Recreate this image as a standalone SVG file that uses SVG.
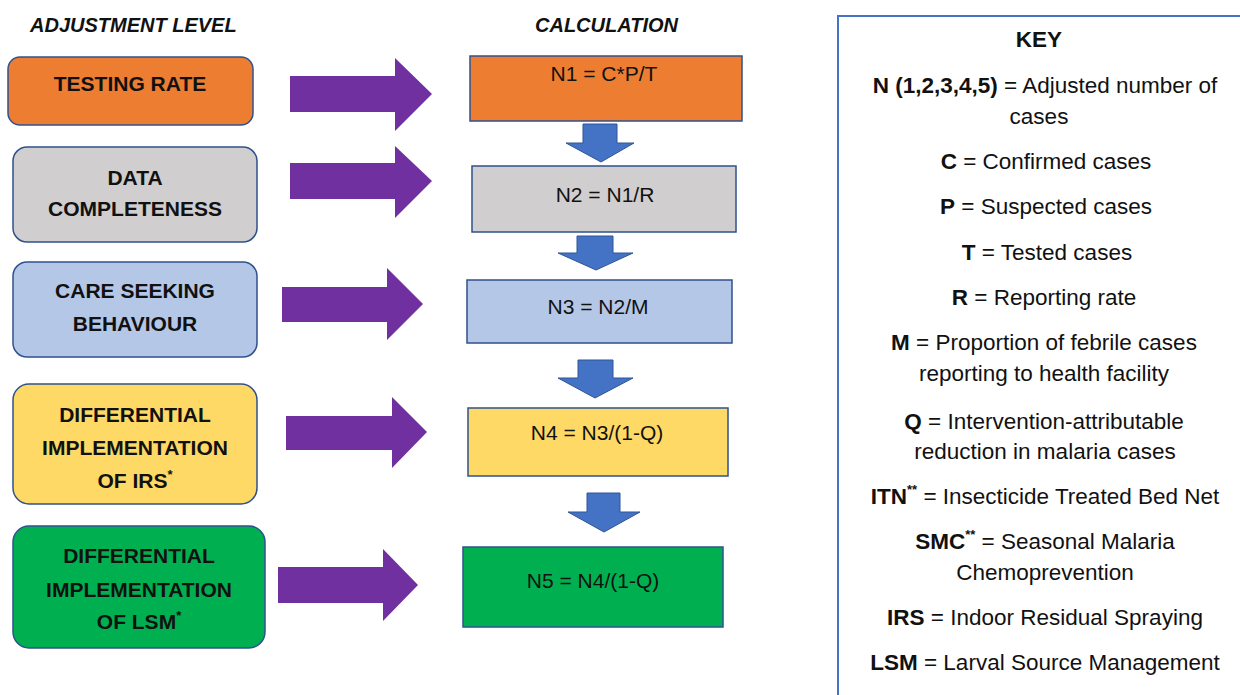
<svg xmlns="http://www.w3.org/2000/svg" width="1240" height="695" viewBox="0 0 1240 695">
<style>
.hdr{font-family:"Liberation Sans",Arial,sans-serif;font-weight:bold;font-style:italic;font-size:20px;fill:#111}
.lbl{font-family:"Liberation Sans",Arial,sans-serif;font-weight:bold;font-size:21px;fill:#111;text-anchor:middle}
.calc{font-family:"Liberation Sans",Arial,sans-serif;font-size:21px;fill:#111;text-anchor:middle}
.key{font-family:"Liberation Sans",Arial,sans-serif;font-size:22.5px;fill:#111;text-anchor:middle}
.b{font-weight:bold}
.sup{font-size:13px;font-weight:bold}
.node{stroke:#2F528F;stroke-width:1.5}
.purple{fill:#7030A0}
.blue{fill:#4472C4;stroke:#2F5597;stroke-width:1}
</style>
<rect width="1240" height="695" fill="#fff"/>
<text class="hdr" x="30" y="32">ADJUSTMENT LEVEL</text>
<text class="hdr" x="535" y="32">CALCULATION</text>

<g id="adj-testing">
<rect class="node" x="8" y="57" width="245" height="68" rx="12" fill="#ED7D31"/>
<text class="lbl" x="130" y="91">TESTING RATE</text>
</g>
<g id="adj-data">
<rect class="node" x="13" y="147" width="244" height="95" rx="14" fill="#D0CECE"/>
<text class="lbl" x="135" y="185">DATA</text>
<text class="lbl" x="135" y="216">COMPLETENESS</text>
</g>
<g id="adj-care">
<rect class="node" x="13" y="262" width="244" height="95" rx="14" fill="#B4C7E7"/>
<text class="lbl" x="135" y="298">CARE SEEKING</text>
<text class="lbl" x="135" y="331">BEHAVIOUR</text>
</g>
<g id="adj-irs">
<rect class="node" x="13" y="384" width="244" height="120" rx="16" fill="#FFD966"/>
<text class="lbl" x="135" y="422">DIFFERENTIAL</text>
<text class="lbl" x="135" y="455">IMPLEMENTATION</text>
<text class="lbl" x="135" y="488">OF IRS<tspan class="sup" dy="-9">*</tspan></text>
</g>
<g id="adj-lsm">
<rect class="node" x="13" y="526" width="252" height="122" rx="16" fill="#00B050"/>
<text class="lbl" x="139" y="563">DIFFERENTIAL</text>
<text class="lbl" x="139" y="597">IMPLEMENTATION</text>
<text class="lbl" x="139" y="629">OF LSM<tspan class="sup" dy="-9">*</tspan></text>
</g>

<g id="calc-n1">
<rect class="node" x="470" y="56" width="272" height="65" fill="#ED7D31"/>
<text class="calc" x="604" y="81">N1 = C*P/T</text>
</g>
<g id="calc-n2">
<rect class="node" x="472" y="166" width="264" height="66" fill="#D0CECE"/>
<text class="calc" x="605" y="202">N2 = N1/R</text>
</g>
<g id="calc-n3">
<rect class="node" x="467" y="280" width="265" height="63" fill="#B4C7E7"/>
<text class="calc" x="598" y="314">N3 = N2/M</text>
</g>
<g id="calc-n4">
<rect class="node" x="468" y="408" width="260" height="68" fill="#FFD966"/>
<text class="calc" x="597" y="440">N4 = N3/(1-Q)</text>
</g>
<g id="calc-n5">
<rect class="node" x="463" y="547" width="260" height="80" fill="#00B050"/>
<text class="calc" x="593" y="588">N5 = N4/(1-Q)</text>
</g>

<g id="connectors">
<polygon class="purple" points="290,76 395,76 395,58 432,94 395,131 395,112 290,112"/>
<polygon class="purple" points="290,163 395,163 395,146 432,181 395,218 395,199 290,199"/>
<polygon class="purple" points="282,287 387,287 387,268 423,304 387,340 387,322 282,322"/>
<polygon class="purple" points="286,416 392,416 392,397 427,432 392,468 392,450 286,450"/>
<polygon class="purple" points="278,567 383,567 383,549 418,585 383,621 383,603 278,603"/>
<polygon class="blue" points="583,124 617,124 617,143 634,143 601,162 566,143 583,143"/>
<polygon class="blue" points="577,236 613,236 613,253 633,253 596,270 558,253 577,253"/>
<polygon class="blue" points="578,360 613,360 613,378 633,378 595,398 558,378 578,378"/>
<polygon class="blue" points="587,493 620,493 620,512 640,512 604,532 568,512 587,512"/>
</g>

<g id="key">
<rect x="838" y="16" width="420" height="700" fill="#fff" stroke="#4472C4" stroke-width="2"/>
<text class="key b" x="1039" y="47">KEY</text>
<text class="key" x="1045" y="93"><tspan class="b">N (1,2,3,4,5)</tspan> = Adjusted number of</text>
<text class="key" x="1039" y="124">cases</text>
<text class="key" x="1046" y="169"><tspan class="b">C</tspan> = Confirmed cases</text>
<text class="key" x="1046" y="214"><tspan class="b">P</tspan> = Suspected cases</text>
<text class="key" x="1047" y="260"><tspan class="b">T</tspan> = Tested cases</text>
<text class="key" x="1044" y="305"><tspan class="b">R</tspan> = Reporting rate</text>
<text class="key" x="1044" y="350"><tspan class="b">M</tspan> = Proportion of febrile cases</text>
<text class="key" x="1044" y="381">reporting to health facility</text>
<text class="key" x="1044" y="429"><tspan class="b">Q</tspan> = Intervention-attributable</text>
<text class="key" x="1045" y="459">reduction in malaria cases</text>
<text class="key" x="1045" y="504"><tspan class="b">ITN</tspan><tspan class="sup" dy="-10">**</tspan><tspan dy="10"> = Insecticide Treated Bed Net</tspan></text>
<text class="key" x="1045" y="549"><tspan class="b">SMC</tspan><tspan class="sup" dy="-10">**</tspan><tspan dy="10"> = Seasonal Malaria</tspan></text>
<text class="key" x="1045" y="580">Chemoprevention</text>
<text class="key" x="1045" y="625"><tspan class="b">IRS</tspan> = Indoor Residual Spraying</text>
<text class="key" x="1045" y="670"><tspan class="b">LSM</tspan> = Larval Source Management</text>
</g>
</svg>
